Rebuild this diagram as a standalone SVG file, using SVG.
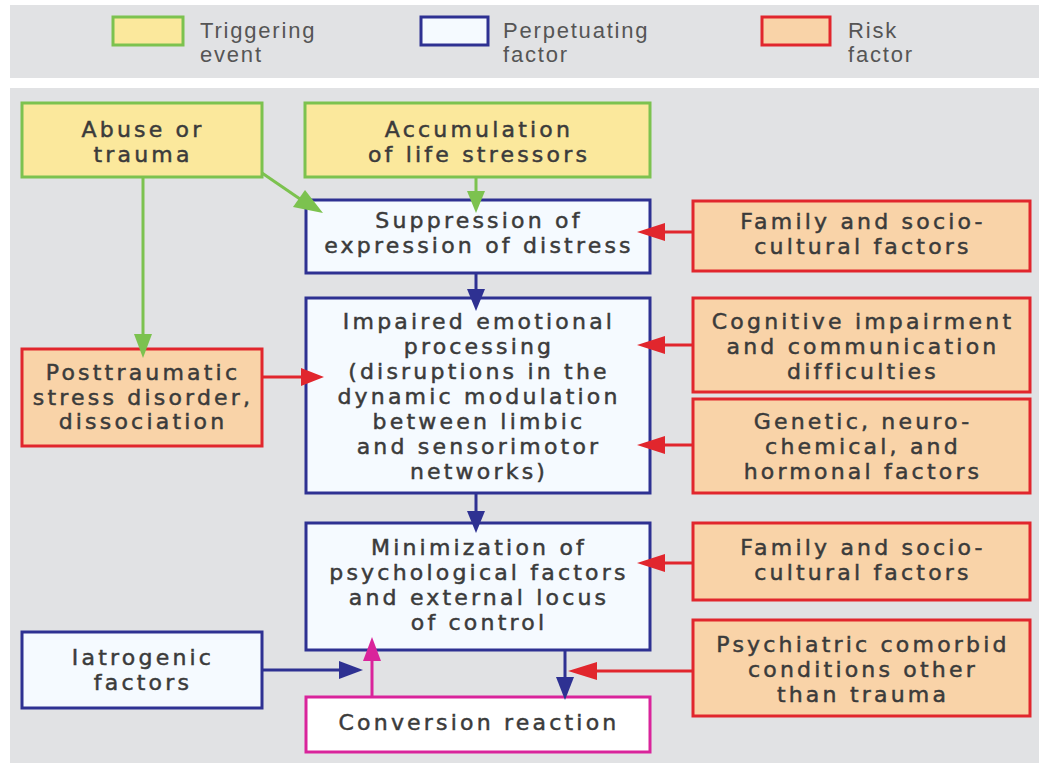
<svg xmlns="http://www.w3.org/2000/svg" width="1039" height="763" viewBox="0 0 1039 763">
<defs>
<style>
.trig{fill:#fbe89c;stroke:#7cc24f;stroke-width:3}
.perp{fill:#f5faff;stroke:#2e3192;stroke-width:3}
.risk{fill:#f9d3a8;stroke:#e1262d;stroke-width:3}
.conv{fill:#ffffff;stroke:#d9249b;stroke-width:3}
.t{font-family:"DejaVu Sans",sans-serif;font-size:22px;fill:#3b3b3b;stroke:#3b3b3b;stroke-width:0.5;text-anchor:middle;letter-spacing:3.2px}
.lg{font-family:"Liberation Sans",sans-serif;font-size:22px;fill:#555555;letter-spacing:1.8px}
.g{stroke:#7cc24f;stroke-width:3;fill:none}
.b{stroke:#2e3192;stroke-width:3;fill:none}
.r{stroke:#e1262d;stroke-width:3;fill:none}
.m{stroke:#d9249b;stroke-width:3;fill:none}
</style>
</defs>
<rect x="0" y="0" width="1039" height="763" fill="#ffffff"/>
<rect x="10" y="5" width="1029" height="73" fill="#e1e2e4"/>
<rect x="10" y="88" width="1029" height="675" fill="#e1e2e4"/>
<g id="legend">
<rect x="113" y="17" width="70" height="28" class="trig"/>
<text class="lg" x="200" y="38">Triggering</text>
<text class="lg" x="200" y="62">event</text>
<rect x="421" y="17" width="67" height="28" class="perp"/>
<text class="lg" x="503" y="38">Perpetuating</text>
<text class="lg" x="503" y="62">factor</text>
<rect x="762" y="17" width="68" height="28" class="risk"/>
<text class="lg" x="848" y="38">Risk</text>
<text class="lg" x="848" y="62">factor</text>
</g>
<g id="abuse">
<rect x="22" y="103" width="240" height="74" class="trig"/>
<text class="t" x="143" y="137">Abuse or</text>
<text class="t" x="143" y="162">trauma</text>
</g>
<g id="accumulation">
<rect x="305" y="103" width="345" height="74" class="trig"/>
<text class="t" x="479" y="137">Accumulation</text>
<text class="t" x="479" y="162">of life stressors</text>
</g>
<g id="suppression">
<rect x="306" y="200" width="344" height="73" class="perp"/>
<text class="t" x="479" y="228">Suppression of</text>
<text class="t" x="479" y="253">expression of distress</text>
</g>
<g id="family1">
<rect x="693" y="201" width="337" height="70" class="risk"/>
<text class="t" x="863" y="229">Family and socio-</text>
<text class="t" x="863" y="254">cultural factors</text>
</g>
<g id="impaired">
<rect x="306" y="298" width="344" height="195" class="perp"/>
<text class="t" x="479" y="329">Impaired emotional</text>
<text class="t" x="479" y="354">processing</text>
<text class="t" x="479" y="379">(disruptions in the</text>
<text class="t" x="479" y="404">dynamic modulation</text>
<text class="t" x="479" y="429">between limbic</text>
<text class="t" x="479" y="454">and sensorimotor</text>
<text class="t" x="479" y="479">networks)</text>
</g>
<g id="cognitive">
<rect x="693" y="298" width="337" height="94" class="risk"/>
<text class="t" x="863" y="329">Cognitive impairment</text>
<text class="t" x="863" y="354">and communication</text>
<text class="t" x="863" y="379">difficulties</text>
</g>
<g id="genetic">
<rect x="693" y="399" width="337" height="94" class="risk"/>
<text class="t" x="863" y="429">Genetic, neuro-</text>
<text class="t" x="863" y="454">chemical, and</text>
<text class="t" x="863" y="479">hormonal factors</text>
</g>
<g id="ptsd">
<rect x="22" y="349" width="240" height="97" class="risk"/>
<text class="t" x="143" y="380">Posttraumatic</text>
<text class="t" x="143" y="405">stress disorder,</text>
<text class="t" x="143" y="429">dissociation</text>
</g>
<g id="minimization">
<rect x="306" y="523" width="344" height="127" class="perp"/>
<text class="t" x="479" y="555">Minimization of</text>
<text class="t" x="479" y="580">psychological factors</text>
<text class="t" x="479" y="605">and external locus</text>
<text class="t" x="479" y="630">of control</text>
</g>
<g id="family2">
<rect x="693" y="523" width="337" height="77" class="risk"/>
<text class="t" x="863" y="555">Family and socio-</text>
<text class="t" x="863" y="580">cultural factors</text>
</g>
<g id="psychiatric">
<rect x="693" y="620" width="337" height="96" class="risk"/>
<text class="t" x="863" y="652">Psychiatric comorbid</text>
<text class="t" x="863" y="677">conditions other</text>
<text class="t" x="863" y="702">than trauma</text>
</g>
<g id="iatrogenic">
<rect x="22" y="632" width="240" height="76" class="perp"/>
<text class="t" x="143" y="665">Iatrogenic</text>
<text class="t" x="143" y="690">factors</text>
</g>
<g id="conversion">
<rect x="306" y="697" width="344" height="55" class="conv"/>
<text class="t" x="479" y="730">Conversion reaction</text>
</g>
<g id="connectors">
<line class="g" x1="143" y1="177" x2="143" y2="335"/>
<polygon points="134,334 152,334 143,358" fill="#7cc24f"/>
<line class="g" x1="262" y1="173" x2="300" y2="199"/>
<polygon points="293,207 305,190 323,213" fill="#7cc24f"/>
<line class="g" x1="476" y1="177" x2="476" y2="192"/>
<polygon points="467,191 485,191 476,213" fill="#7cc24f"/>
<line class="b" x1="476" y1="273" x2="476" y2="290"/>
<polygon points="467,289 485,289 476,311" fill="#2e3192"/>
<line class="b" x1="476" y1="493" x2="476" y2="512"/>
<polygon points="467,511 485,511 476,533" fill="#2e3192"/>
<line class="b" x1="565" y1="650" x2="565" y2="678"/>
<polygon points="556,677 574,677 565,700" fill="#2e3192"/>
<line class="b" x1="262" y1="670" x2="340" y2="670"/>
<polygon points="339,661 339,679 363,670" fill="#2e3192"/>
<line class="m" x1="372" y1="697" x2="372" y2="660"/>
<polygon points="363,661 381,661 372,637" fill="#d9249b"/>
<line class="r" x1="262" y1="377" x2="302" y2="377"/>
<polygon points="301,368 301,386 324,377" fill="#e1262d"/>
<line class="r" x1="693" y1="232" x2="664" y2="232"/>
<polygon points="665,223 665,241 637,232" fill="#e1262d"/>
<line class="r" x1="693" y1="345" x2="664" y2="345"/>
<polygon points="665,336 665,354 637,345" fill="#e1262d"/>
<line class="r" x1="693" y1="445" x2="664" y2="445"/>
<polygon points="665,436 665,454 637,445" fill="#e1262d"/>
<line class="r" x1="693" y1="563" x2="664" y2="563"/>
<polygon points="665,554 665,572 637,563" fill="#e1262d"/>
<line class="r" x1="693" y1="671" x2="596" y2="671"/>
<polygon points="597,662 597,680 568,671" fill="#e1262d"/>
</g>
</svg>
